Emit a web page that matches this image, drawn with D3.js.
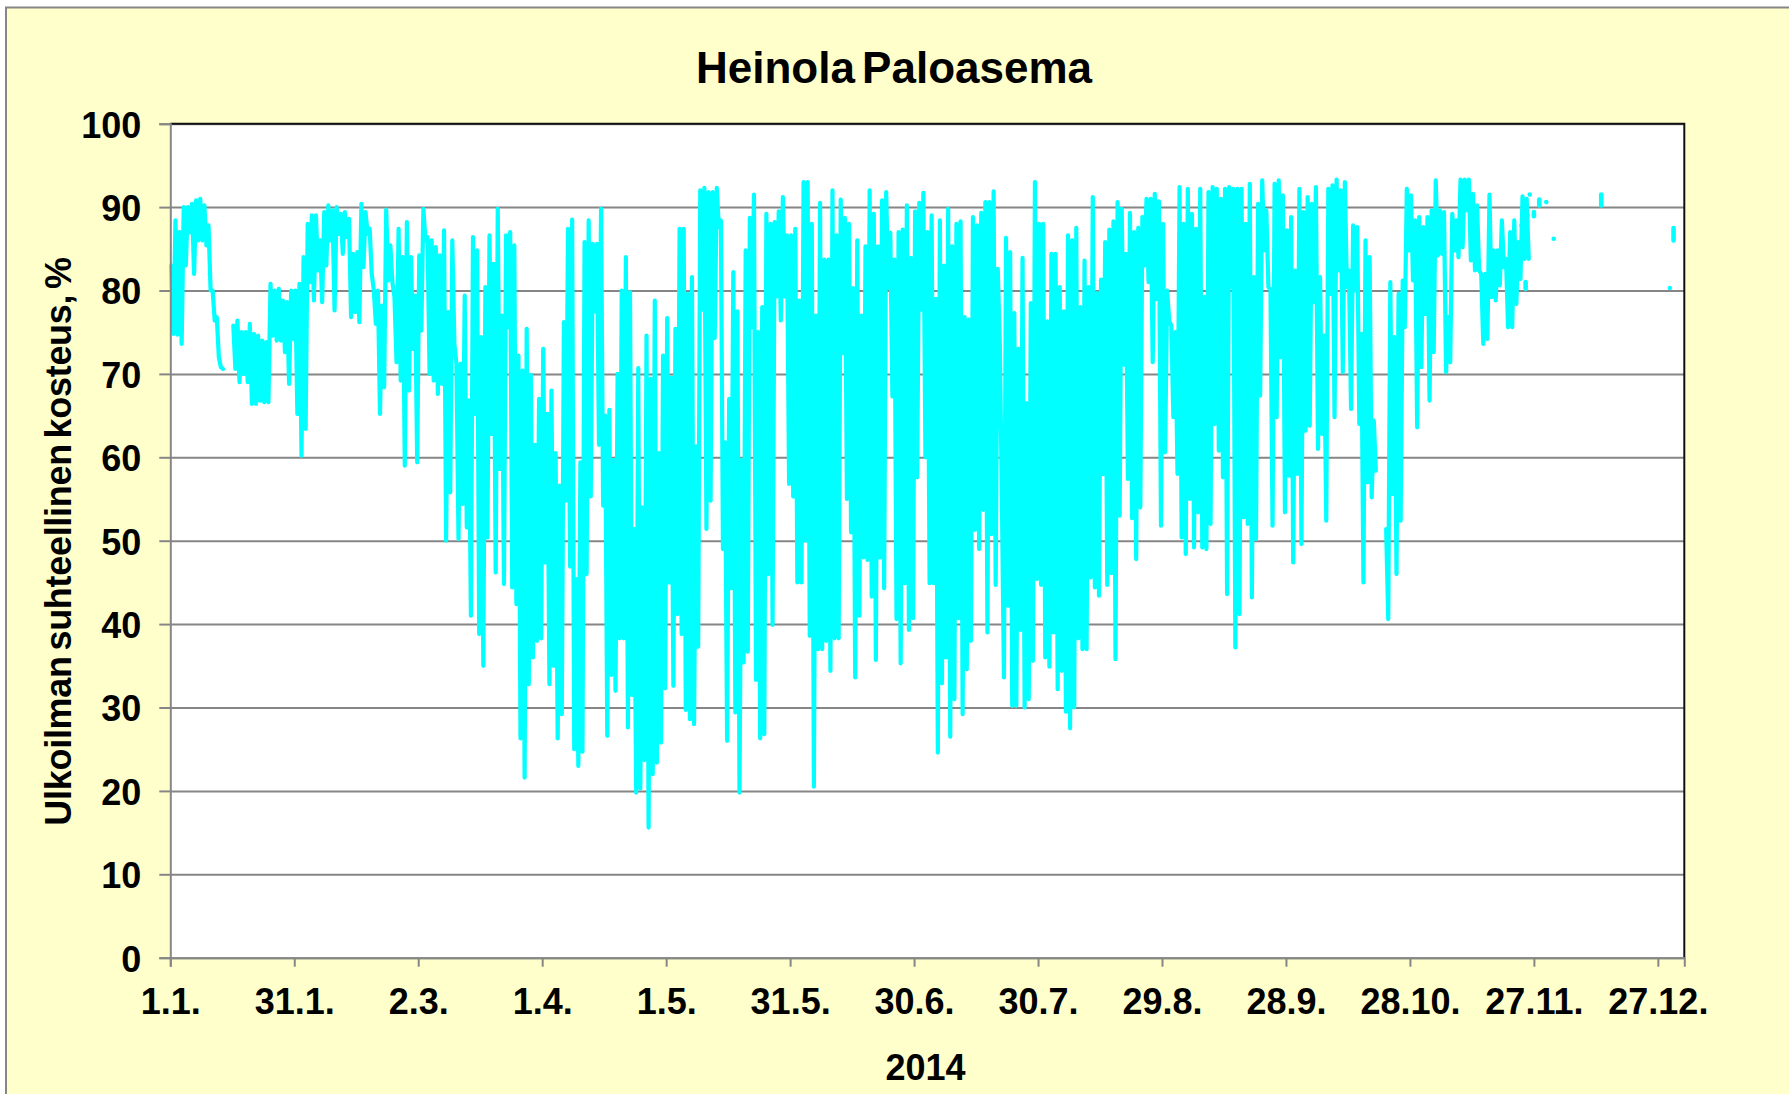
<!DOCTYPE html>
<html>
<head>
<meta charset="utf-8">
<title>Heinola Paloasema</title>
<script src="https://cdn.jsdelivr.net/npm/d3@7"></script>
<style>
    html, body { margin: 0; padding: 0; background: #fff; overflow: hidden; }
    svg { display: block; }
    text { font-family: "Liberation Sans", Arial, sans-serif; font-weight: bold; fill: #000; }
</style>
</head>
<body>
<div id="chart"></div>
<script>
const titleText = "Heinola Paloasema";
const yTitleText = "Ulkoilman suhteellinen kosteus, %";
const xTitleText = "2014";

const yTicks = [0, 10, 20, 30, 40, 50, 60, 70, 80, 90, 100];
const xTickDays = [0, 30, 60, 90, 120, 150, 180, 210, 240, 270, 300, 330, 360];
const xTickLabels = ["1.1.", "31.1.", "2.3.", "1.4.", "1.5.", "31.5.", "30.6.", "30.7.", "29.8.", "28.9.", "28.10.", "27.11.", "27.12."];

// Highest and lowest reading of each day. null = no data.
const dayHigh = [
    83, 88.4, 87, 90, 90, 90.4, 90.8, 91, 90.2, 87.8,
    80, 76.8, 70.8, null, null, 75.8, 76.4, 75, 75, 76,
    74.8, 74.6, 74, 73.8, 80.8, 80, 80.2, 78.8, 78.6, 80,
    80, 80.8, 84, 88, 89, 89, 86, 89.4, 90.2, 89.6,
    90, 89.2, 89.4, 88.6, 84.4, 84.6, 90.4, 89.4, 87.4, 80,
    80, 78.2, 89.7, 85.4, 79.2, 87.4, 84, 88.2, 84, 79.4,
    84.2, 89.8, 86.4, 86, 85.2, 84.2, 87.2, 77.4, 86, 71.2,
    71.2, 79.4, 66.8, 86.4, 84.8, 74.4, 80.4, 86.6, 83.2, 89.8,
    77, 86.6, 87, 85.4,
    72.2, 70.4, 75.4, 69.9, 61.5, 67, 73, 65.2, 68, 60.5,
    56.6, 76.2, 87.4, 88.5, 45.4, 59.4, 85.8, 88.4, 85.6, 85.6,
    89.8, 65, 65.7, 59.7, 70, 80, 84, 79.8, 51.4, 70.7,
    54, 74.6, 69.4, 78.8, 60.5, 72.2, 76.7, 69.6, 75.4, 87.4,
    87.4, 79.6, 81.6, 61.3, 92, 92.3, 91.8, 91.8, 92.3, 88.4,
    61.8, 67, 82.2, 77.5, 59.7, 84.8, 88.7, 91.5, 75, 78,
    89.2, 88, 88.2, 89.5, 91.2, 86.6, 86.6, 87.4, 78.8, 93,
    93, 88, 77, 90.5, 83.7, 83.7, 92, 86.6, 90.9, 88.7,
    88, 80.3, 86, 77, 85.3, 92, 89.2, 85.3, 90.8, 91.8,
    86.9, 83.7,
    87, 87.3, 90.2, 83.9, 89.5, 90.5, 91.7, 87, 89, 79,
    88.4, 83, 89.8, 85.3, 88, 88.3, 76.8, 76.5, 88.8, 87.8,
    89.3, 90.6, 90.6, 91.9, 82.6, 55, 86.3, 84.6, 77.3, 73,
    83.9, 66.5, 78.5, 93, 88, 88, 76.3, 84.4, 84.4, 80.4,
    77.5, 86.6, 86, 87.5, 78, 83.6, 80.4, 91.2, 79.7, 81.3,
    85.8, 87.3, 88.3, 90.6, 89.8, 84.4, 89.3, 87, 87.5, 88.8,
    91, 91, 91.6, 90.7, 88, 80, 75.8, 75,
    92.4, 88, 92.2, 89.2, 87.4, 92.2, 79.2, 91.8, 92.4, 92.2,
    91, 92.2, 92.4, 92.2, 92.2, 92.2, 88, 92.8, 81.6, 90.4,
    93.2, 89.6, 80.2, 92.8, 93.2, 91.4, 87.2, 88.8, 82.4, 92.2,
    89.4, 91.2, 90.4, 92.4, 81.6, 74.6, 92.2, 92.6, 93.3, 92,
    93, 82.4, 87.8, 87.6, 74.8, 86, 84, 64.4, null, null,
    51.4, 81, 74.4, 79.6, 81.2, 92.2, 91.4, 88.4, 88.8, 87.6,
    88.8, 89.6, 93.2, 89.6, 89.4, 76.8, 89.2, 88.4,
    93.3, 93.3, 93.3, 91.6, 90.2, 82, 82, 91.5, 84.8, 84.8,
    88.4, 83.8, 87, 88.4, 85.8, 91.3, 91
];

const dayLow = [
    74.8, 74.7, 73.6, 83, 87, 82, 86, 86, 85.4, 80,
    76.4, 72, 70.6, null, null, 70.6, 69, 70, 69, 66.4,
    66.4, 66.8, 66.6, 66.6, 74.6, 74, 74, 72.6, 68.8, 74.2,
    65.2, 60.2, 63.4, 81, 78.8, 82.4, 78.6, 83, 86, 77.6,
    86.8, 84.4, 86.4, 76.8, 77.4, 76.2, 82.8, 86.8, 82, 76,
    65.2, 68.4, 81.2, 81, 71.4, 69.2, 59, 68, 73, 59.4,
    75.2, 86, 70, 69.2, 67.6, 68.8, 50, 55.8, 73.6, 50.2,
    54.4, 51.6, 41, 65.2, 38.8, 35, 50.4, 62.8, 46.2, 58.6,
    44.8, 75.6, 44.4, 42.4,
    26.3, 21.6, 32.8, 36, 38, 38.3, 47.4, 32.8, 35, 26.3,
    29.2, 54.8, 46.9, 25, 23, 24.7, 46, 55.3, 77.5, 61.5,
    54.2, 26.6, 33.9, 32, 38.3, 38.3, 27.6, 31.5, 19.8, 20.3,
    23.7, 15.6, 22, 23.4, 25.8, 32.3, 45, 32.6, 41.2, 38.8,
    29.7, 28.6, 28, 37.3, 77.7, 51.4, 54.8, 74.3, 87.6, 49,
    26, 44.3, 29.4, 19.8, 35.4, 36.7, 75.6, 33.3, 26.3, 26.8,
    46, 39.9, 79.3, 76.4, 79.3, 56.8, 55.3, 45, 45, 50,
    38.6, 20.5, 37, 37, 38, 34.4, 38.3, 38.3, 72.5, 55,
    51, 33.6, 41, 48, 47.7, 43.3, 35.7, 48, 44.3, 80.3,
    67.3, 40.6,
    35.3, 44.9, 39.3, 40.7, 57.6, 77.7, 60, 44.9, 44.9, 24.6,
    32.9, 36, 26.5, 31, 40.7, 29.2, 34.6, 38, 51.3, 49,
    53.7, 39, 50.8, 44.7, 73.8, 33.6, 42.2, 30.2, 30.2, 39.3,
    30, 31, 35.6, 45.4, 44.7, 36, 34.9, 39, 32.2, 34.4,
    29.5, 27.5, 30, 38.3, 37, 37, 45.6, 44.4, 43.4, 58,
    44.7, 46.1, 35.8, 53, 71.1, 57.4, 52.7, 47.8, 54, 83,
    81, 71.4, 79, 51.8, 60.6, 76.3, 64.8, 58,
    50.4, 48.4, 55, 49.2, 53.4, 49.2, 49, 52, 64, 60.8,
    57.6, 43.6, 80.4, 37.2, 41.2, 52.8, 52, 43.2, 50.2, 67.4,
    84.8, 80.4, 51.8, 64.8, 72, 53.4, 57.8, 47.4, 58, 49.6,
    63.2, 63.8, 78.6, 61, 62.8, 52.4, 79.6, 64.8, 82.4, 70.2,
    80.4, 65.8, 80, 64, 45, 57, 55.2, 58.4, null, null,
    40.6, 55.6, 46, 52.4, 75.6, 84.8, 81.2, 63.6, 70.8, 77.2,
    66.8, 72.6, 84.2, 84.4, 70.2, 71.4, 84.8, 84,
    85.2, 89.6, 83.6, 82.4, 82.4, 73.6, 74.2, 79.2, 78.8, 80.6,
    82.8, 75.6, 75.6, 78.4, 81.4, 83.8, 83.8
];

// Lone readings at the end of the year, each one a short dash or a dot.
const strayDays = [327, 328, 328.5, 329, 330, 331.3, 333, 334.8, 346.3, 362.9, 363.8];
const strayHigh = [87.8, 81, 89, 91.5, 89.4, 90.9, 90.6, 86.2, 91.5, 80.3, 87.5];
const strayLow = [87.8, 80.2, 89, 91.5, 88.9, 90.2, 90.6, 86.2, 90.2, 80.3, 86];

const chart = {
    width: 1789,
    height: 1094,
    left: 170.3,
    right: 1684.3,
    top: 123.7,
    bottom: 957.7,
    lastDay: 366.4,
    background: "#FFFFCC",
    axisColor: "#868686",
    lineColor: "#00FFFF"
};

const svg = d3.select("#chart")
    .append("svg")
    .attr("width", chart.width)
    .attr("height", chart.height);

// Outer frame runs off the right and bottom of the picture.
svg.append("rect")
    .attr("x", 6)
    .attr("y", 7.5)
    .attr("width", chart.width + 20)
    .attr("height", chart.height + 20)
    .attr("fill", chart.background)
    .attr("stroke", chart.axisColor)
    .attr("stroke-width", 2);

svg.append("rect")
    .attr("x", chart.left)
    .attr("y", chart.top)
    .attr("width", chart.right - chart.left)
    .attr("height", chart.bottom - chart.top)
    .attr("fill", "#fff");

const x = d3.scaleLinear()
    .domain([0, chart.lastDay])
    .range([chart.left, chart.right]);

const y = d3.scaleLinear()
    .domain([0, 100])
    .range([chart.bottom, chart.top]);

// Gridlines.
svg.append("g")
    .attr("transform", `translate(${chart.left},0)`)
    .call(d3.axisLeft(y)
        .tickValues(yTicks)
        .tickSize(-(chart.right - chart.left))
        .tickFormat(""))
    .call((g) => g.select(".domain").remove())
    .selectAll("line")
    .attr("stroke", chart.axisColor)
    .attr("stroke-width", 2);

// One high and one low per day, in day order.
const readings = dayHigh.flatMap((high, i) => [
    { day: i + 0.25, value: high },
    { day: i + 0.75, value: dayLow[i] }
]);

const line = d3.line()
    .defined((d) => d.value !== null)
    .x((d) => x(d.day))
    .y((d) => y(d.value));

svg.append("path")
    .datum(readings)
    .attr("class", "humidity")
    .attr("d", line)
    .attr("fill", "none")
    .attr("stroke", chart.lineColor)
    .attr("stroke-width", 4.2)
    .attr("stroke-linejoin", "round")
    .attr("stroke-linecap", "round");

svg.append("g")
    .attr("class", "strays")
    .selectAll("path")
    .data(strayDays)
    .enter()
    .append("path")
    .attr("d", (d, i) => line([{ day: d, value: strayHigh[i] }, { day: d, value: strayLow[i] }]))
    .attr("fill", "none")
    .attr("stroke", chart.lineColor)
    .attr("stroke-width", 4.6)
    .attr("stroke-linecap", "round");

// Plot border, top and right are darker than the axes.
svg.append("path")
    .attr("d", d3.line()([[chart.left, chart.top], [chart.right, chart.top], [chart.right, chart.bottom]]))
    .attr("fill", "none")
    .attr("stroke", "#111")
    .attr("stroke-width", 2);

const yAxis = svg.append("g")
    .attr("transform", `translate(${chart.left},0)`)
    .call(d3.axisLeft(y)
        .tickValues(yTicks)
        .tickSize(11)
        .tickPadding(18));

const xAxis = svg.append("g")
    .attr("transform", `translate(0,${chart.bottom})`)
    .call(d3.axisBottom(x)
        .tickValues(xTickDays)
        .tickSize(9)
        .tickPadding(22)
        .tickFormat((d, i) => xTickLabels[i]));

[yAxis, xAxis].forEach((axis) => {
    axis.attr("font-family", null).attr("font-size", null);
    axis.selectAll(".domain, line")
        .attr("stroke", chart.axisColor)
        .attr("stroke-width", 2);
    axis.selectAll("text")
        .style("font-size", "36px");
});

yAxis.selectAll("text").attr("dy", "0.37em");
xAxis.selectAll("text").attr("dy", "0.71em");

svg.append("text")
    .text(titleText)
    .attr("x", 894)
    .attr("y", 83)
    .attr("text-anchor", "middle")
    .style("font-size", "44px")
    .style("word-spacing", "-5px");

svg.append("text")
    .text(xTitleText)
    .attr("x", 925.5)
    .attr("y", 1079.5)
    .attr("text-anchor", "middle")
    .style("font-size", "36px");

svg.append("text")
    .text(yTitleText)
    .attr("transform", "translate(71,541.5) rotate(-90)")
    .attr("text-anchor", "middle")
    .style("font-size", "36px")
    .style("letter-spacing", "-0.3px")
    .style("word-spacing", "-4px");
</script>
</body>
</html>
